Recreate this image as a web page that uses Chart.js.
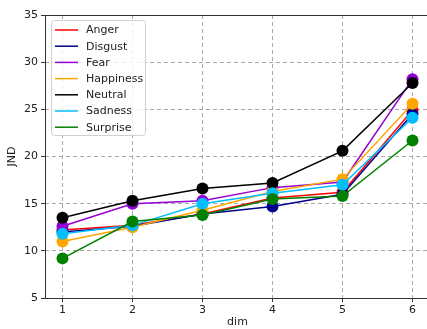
<!DOCTYPE html>
<html>
<head>
<meta charset="utf-8">
<script src="https://cdn.jsdelivr.net/npm/chart.js@4.4.1/dist/chart.umd.min.js"></script>
<style>
  html, body { margin: 0; padding: 0; background: #fff; }
  .wrap { width: 427px; height: 329px; overflow: hidden; }
</style>
</head>
<body>
<div class="wrap">
  <canvas id="chart" width="436" height="329"></canvas>
</div>
<script>
const dims = [1, 2, 3, 4, 5, 6];
const yTicks = [5, 10, 15, 20, 25, 30, 35];

const labels = ['Anger', 'Disgust', 'Fear', 'Happiness', 'Neutral', 'Sadness', 'Surprise'];
const colors = ['#ff0000', '#00008b', '#9400d3', '#ffa500', '#000000', '#00bfff', '#008000'];

const anger = [12.2, 12.7, 13.9, 15.6, 16.2, 24.9];
const disgust = [12.0, 12.6, 13.9, 14.7, 16.0, 24.5];
const fear = [12.6, 15.0, 15.3, 16.7, 17.3, 28.2];
const happiness = [11.0, 12.5, 14.3, 16.3, 17.6, 25.6];
const neutral = [13.5, 15.3, 16.6, 17.2, 20.6, 27.8];
const sadness = [11.8, 12.7, 15.0, 16.1, 17.0, 24.1];
const surprise = [9.2, 13.1, 13.8, 15.5, 15.8, 21.7];

const series = [anger, disgust, fear, happiness, neutral, sadness, surprise];

const font = { family: 'DejaVu Sans', size: 11 };

// frame round the plot (matplotlib spines) + legend inside the axes
const framePlugin = {
    id: 'frame',
    afterDatasetsDraw(chart) {
        const a = chart.chartArea;
        const ctx = chart.ctx;
        ctx.save();
        ctx.strokeStyle = '#333';
        ctx.lineWidth = 1;
        ctx.strokeRect(a.left + 0.5, a.top + 0.5, a.right - a.left, a.bottom - a.top);
        ctx.restore();
    },
    afterDraw(chart) {
        const a = chart.chartArea;
        const ctx = chart.ctx;
        const x0 = a.left + 6, y0 = a.top + 5;
        const w = 94, h = 115;
        ctx.save();
        ctx.fillStyle = 'rgba(255,255,255,0.8)';
        ctx.strokeStyle = '#d0d0d0';
        ctx.lineWidth = 1;
        ctx.beginPath();
        ctx.roundRect(x0 + 0.5, y0 + 0.5, w, h, 3);
        ctx.fill();
        ctx.stroke();
        ctx.font = font.size + 'px ' + font.family;
        ctx.textBaseline = 'middle';
        chart.data.datasets.forEach((ds, i) => {
            const y = y0 + 10 + i * 16.2;
            ctx.strokeStyle = ds.borderColor;
            ctx.lineWidth = 1.5;
            ctx.beginPath();
            ctx.moveTo(x0 + 4, y);
            ctx.lineTo(x0 + 27, y);
            ctx.stroke();
            ctx.fillStyle = '#222';
            ctx.fillText(ds.label, x0 + 35, y + 0.5);
        });
        ctx.restore();
    }
};

const datasets = series.map((vals, i) => ({
    label: labels[i],
    data: dims.map((d, j) => ({ x: d, y: vals[j] })),
    borderColor: colors[i],
    backgroundColor: colors[i],
    borderWidth: 1.5,
    pointRadius: 6,
    pointHoverRadius: 6,
    pointBorderWidth: 0,
    tension: 0,
    order: series.length - i   // later series on top, like matplotlib
}));

const gridOpts = {
    color: '#a8a8a8',
    tickBorderDash: [],
    tickColor: '#333',
    tickLength: 4,
    lineWidth: 1
};

new Chart(document.getElementById('chart'), {
    type: 'line',
    data: { datasets: datasets },
    options: {
        responsive: false,
        animation: false,
        layout: { padding: { top: 15, right: 0, left: 0, bottom: 0 } },
        plugins: {
            legend: { display: false },
            tooltip: { enabled: false }
        },
        scales: {
            x: {
                type: 'linear',
                min: 0.75,
                max: 6.25,
                afterBuildTicks: s => { s.ticks = dims.map(v => ({ value: v })); },
                afterFit: s => { s.height = 31; },
                ticks: { color: '#222', font: font, padding: 2 },
                grid: gridOpts,
                border: { display: false, dash: [4, 3] },
                title: { display: true, text: 'dim', color: '#222', font: font, padding: { top: 0, bottom: 0 } }
            },
            y: {
                min: 5,
                max: 35,
                afterBuildTicks: s => { s.ticks = yTicks.map(v => ({ value: v })); },
                afterFit: s => { s.width = 45; },
                ticks: { color: '#222', font: font, padding: 3 },
                grid: gridOpts,
                border: { display: false, dash: [4, 3] },
                title: { display: true, text: 'JND', color: '#222', font: font, padding: { top: 6, bottom: 0 } }
            }
        }
    },
    plugins: [framePlugin]
});
</script>
</body>
</html>
